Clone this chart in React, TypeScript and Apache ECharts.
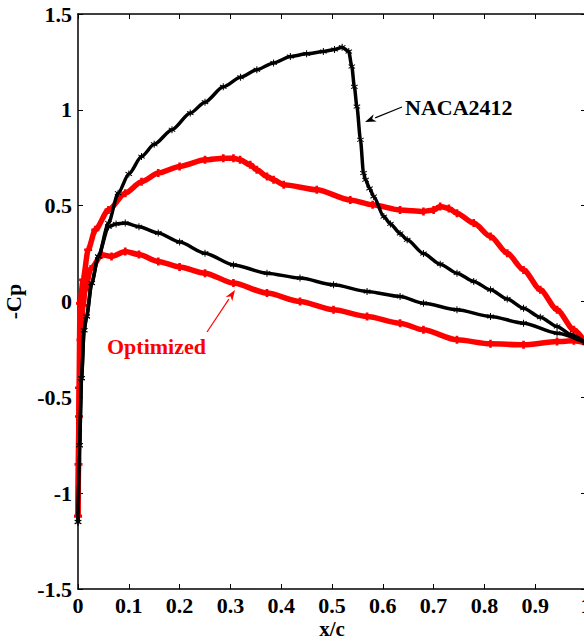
import React, { useEffect, useRef } from "react";
import * as echarts from "echarts";

// NACA2412 (black) – upper and lower surfaces
const nacaUpperX = [0, 0.003, 0.007, 0.012, 0.017, 0.027, 0.04, 0.06, 0.079, 0.1, 0.125, 0.15, 0.185, 0.221, 0.25, 0.286, 0.32, 0.352, 0.385, 0.418, 0.45, 0.483, 0.505, 0.52, 0.533, 0.539, 0.544, 0.549, 0.556, 0.562, 0.566, 0.574, 0.582, 0.602, 0.615, 0.634, 0.648, 0.68, 0.713, 0.746, 0.779, 0.812, 0.845, 0.877, 0.91, 0.943, 0.97, 1.0];
const nacaUpperCp = [-1.15, -0.75, -0.4, -0.15, -0.078, 0.096, 0.235, 0.409, 0.565, 0.665, 0.756, 0.82, 0.896, 0.983, 1.04, 1.12, 1.17, 1.209, 1.245, 1.278, 1.292, 1.304, 1.315, 1.327, 1.304, 1.226, 1.12, 1.017, 0.844, 0.67, 0.635, 0.59, 0.548, 0.443, 0.405, 0.355, 0.322, 0.25, 0.195, 0.148, 0.105, 0.061, 0.013, -0.035, -0.082, -0.13, -0.172, -0.217];
const nacaLowerX = [0, 0.003, 0.007, 0.012, 0.017, 0.027, 0.04, 0.06, 0.075, 0.093, 0.12, 0.158, 0.2, 0.25, 0.306, 0.372, 0.437, 0.503, 0.569, 0.634, 0.68, 0.746, 0.812, 0.877, 0.943, 1.0];
const nacaLowerCp = [-1.15, -0.75, -0.4, -0.15, -0.078, 0.096, 0.235, 0.39, 0.405, 0.409, 0.39, 0.357, 0.31, 0.252, 0.191, 0.148, 0.122, 0.087, 0.052, 0.026, -0.009, -0.043, -0.078, -0.113, -0.165, -0.217];

// Optimized (red) – upper and lower surfaces
const optUpperX = [0, 0.001, 0.002, 0.004, 0.01, 0.02, 0.034, 0.06, 0.093, 0.125, 0.158, 0.2, 0.25, 0.286, 0.306, 0.319, 0.339, 0.352, 0.372, 0.385, 0.405, 0.47, 0.536, 0.58, 0.634, 0.68, 0.7, 0.713, 0.73, 0.746, 0.779, 0.812, 0.845, 0.877, 0.91, 0.943, 0.976, 1.0];
const optUpperCp = [-1.12, -0.85, -0.45, -0.01, 0.113, 0.27, 0.374, 0.478, 0.565, 0.625, 0.67, 0.705, 0.739, 0.748, 0.748, 0.739, 0.713, 0.687, 0.652, 0.635, 0.609, 0.583, 0.53, 0.505, 0.478, 0.47, 0.478, 0.496, 0.485, 0.461, 0.409, 0.339, 0.252, 0.165, 0.061, -0.043, -0.148, -0.217];
const optLowerX = [0, 0.002, 0.005, 0.01, 0.014, 0.025, 0.047, 0.066, 0.093, 0.12, 0.158, 0.2, 0.25, 0.306, 0.372, 0.437, 0.503, 0.569, 0.634, 0.68, 0.746, 0.812, 0.877, 0.943, 0.976, 1.0];
const optLowerCp = [-1.12, -0.6, -0.2, -0.02, 0.061, 0.17, 0.244, 0.235, 0.261, 0.245, 0.209, 0.18, 0.148, 0.096, 0.044, 0.0, -0.043, -0.078, -0.113, -0.148, -0.2, -0.221, -0.226, -0.209, -0.205, -0.217];

const FONT = "'Liberation Serif', 'Times New Roman', serif";

const pairs = (xs: number[], ys: number[]) => xs.map((x, i) => [x, ys[i]]);

const CROSS = "path://M2,0h2v2h2v2h-2v2h-2v-2h-2v-2h2z";
const STAR = "path://M2.6,0h0.8v2.3l2-1.2l0.4,0.7l-2,1.2l2,1.2l-0.4,0.7l-2,-1.2v2.3h-0.8v-2.3l-2,1.2l-0.4,-0.7l2,-1.2l-2,-1.2l0.4,-0.7l2,1.2z";

function arrow(x1: number, y1: number, x2: number, y2: number, color: string, len = 11, half = 4) {
  const dx = x2 - x1, dy = y2 - y1;
  const L = Math.hypot(dx, dy);
  const ux = dx / L, uy = dy / L;
  const bx = x2 - ux * len, by = y2 - uy * len;
  const px = -uy * half, py = ux * half;
  return [
    { type: "line", shape: { x1, y1, x2: bx, y2: by }, style: { stroke: color, lineWidth: 1.2 } },
    {
      type: "polygon",
      shape: { points: [[x2, y2], [bx + px, by + py], [x2 - ux * len * 0.7, y2 - uy * len * 0.7], [bx - px, by - py]] },
      style: { fill: color },
    },
  ];
}

export default function App() {
  const ref = useRef<HTMLDivElement>(null);
  useEffect(() => {
    if (!ref.current) return;
    const chart = echarts.init(ref.current, null, { renderer: "svg" });
    const axisLine = { show: true, onZero: false, lineStyle: { color: "#000", width: 1.5 } };
    const tick = { show: true, inside: true, length: 5, lineStyle: { color: "#000", width: 1 } };
    const lbl = { fontFamily: FONT, fontWeight: "bold", fontSize: 22, color: "#000" };
    const nameStyle = { fontFamily: FONT, fontWeight: "bold", fontSize: 21, color: "#000" };
    const lineCommon = { type: "line", smooth: 0.25, smoothMonotone: "x", showSymbol: true };
    chart.setOption({
      animation: false,
      grid: { left: 78, top: 14, width: 508, height: 575, containLabel: false, outerBoundsMode: "none" },
      xAxis: [
        {
          type: "value", min: 0, max: 1, interval: 0.1, position: "bottom",
          name: "x/c", nameLocation: "middle", nameGap: 29, nameMoveOverlap: false, nameTextStyle: nameStyle,
          axisLine, axisTick: tick, splitLine: { show: false },
          axisLabel: { ...lbl, margin: 5 },
        },
        {
          type: "value", min: 0, max: 1, interval: 0.1, position: "top",
          axisLine, axisTick: tick, splitLine: { show: false }, axisLabel: { show: false },
        },
      ],
      yAxis: [
        {
          type: "value", min: -1.5, max: 1.5, interval: 0.5, position: "left",
          name: "-Cp", nameLocation: "middle", nameGap: 54, nameRotate: 90, nameMoveOverlap: false,
          nameTextStyle: { ...nameStyle, fontSize: 22 },
          axisLine, axisTick: tick, splitLine: { show: false },
          axisLabel: { ...lbl, margin: 6 },
        },
        {
          type: "value", min: -1.5, max: 1.5, interval: 0.5, position: "right",
          axisLine, axisTick: tick, splitLine: { show: false }, axisLabel: { show: false },
        },
      ],
      series: [
        {
          ...lineCommon, name: "Optimized upper", data: pairs(optUpperX, optUpperCp),
          lineStyle: { color: "#ff0000", width: 5.5 }, itemStyle: { color: "#ff0000" },
          symbol: CROSS, symbolSize: 8, z: 2,
        },
        {
          ...lineCommon, name: "Optimized lower", data: pairs(optLowerX, optLowerCp),
          lineStyle: { color: "#ff0000", width: 5.5 }, itemStyle: { color: "#ff0000" },
          symbol: CROSS, symbolSize: 8, z: 2,
        },
        {
          ...lineCommon, name: "NACA2412 upper", data: pairs(nacaUpperX, nacaUpperCp),
          lineStyle: { color: "#000", width: 3.5 }, itemStyle: { color: "#000" },
          symbol: STAR, symbolSize: 7, z: 3,
        },
        {
          ...lineCommon, name: "NACA2412 lower", data: pairs(nacaLowerX, nacaLowerCp),
          lineStyle: { color: "#000", width: 3.5 }, itemStyle: { color: "#000" },
          symbol: STAR, symbolSize: 7, z: 3,
        },
      ],
      graphic: [
        {
          type: "text", left: 405, top: 96,
          style: { text: "NACA2412", fontFamily: FONT, fontWeight: "bold", fontSize: 22, fill: "#000" },
        },
        {
          type: "text", left: 107, top: 335,
          style: { text: "Optimized", fontFamily: FONT, fontWeight: "bold", fontSize: 22, fill: "#ff0000" },
        },
        ...arrow(402, 107, 365, 122, "#000"),
        ...arrow(207, 332, 235, 290, "#ff0000"),
      ],
    });
    return () => chart.dispose();
  }, []);
  return (
    <div style={{ position: "fixed", left: 0, top: 0, width: 584, height: 641, overflow: "hidden", background: "#fff" }}>
      <div ref={ref} style={{ width: 600, height: 641 }} />
    </div>
  );
}
